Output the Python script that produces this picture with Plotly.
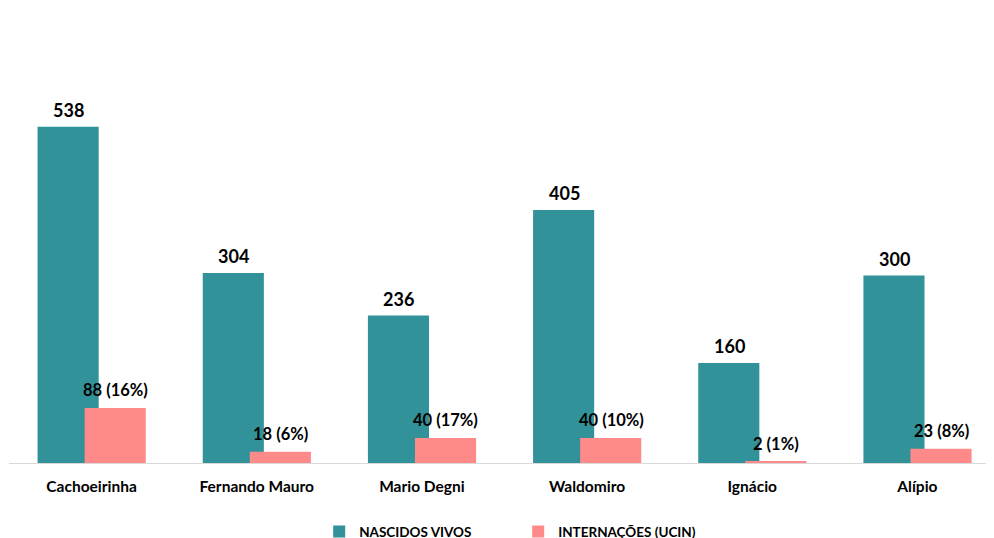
import plotly.graph_objects as go

categorias = ["Cachoeirinha", "Fernando Mauro", "Mario Degni", "Waldomiro", "Ignácio", "Alípio"]
nascidos_vivos = [538, 304, 236, 405, 160, 300]
internacoes = [88, 18, 40, 40, 2, 23]
percentuais = [16, 6, 17, 10, 1, 8]

TEAL = "#31929A"
PINK = "#FF8A8A"
FONT = "Lato"

rotulos_nv = [str(v) for v in nascidos_vivos]
rotulos_int = [f"{v} ({p}%)" for v, p in zip(internacoes, percentuais)]

fig = go.Figure()
fig.add_trace(go.Bar(
    x=categorias, y=nascidos_vivos, name="NASCIDOS VIVOS",
    marker=dict(color=TEAL, line=dict(width=0)),
    width=0.37, offset=-0.327,
))
fig.add_trace(go.Bar(
    x=categorias, y=internacoes, name="INTERNAÇÕES (UCIN)",
    marker=dict(color=PINK, line=dict(width=0)),
    width=0.37, offset=-0.042,
))

# rótulos de dados acima das barras
for cat, v, t in zip(categorias, nascidos_vivos, rotulos_nv):
    fig.add_annotation(x=cat, y=v, text=t, showarrow=False, xshift=-23, yshift=17,
                       yanchor="middle",
                       font=dict(family=FONT, size=18, color="#000000", weight="bold"))
for cat, v, t in zip(categorias, internacoes, rotulos_int):
    fig.add_annotation(x=cat, y=v, text=t, showarrow=False, xshift=24, yshift=18,
                       yanchor="middle",
                       font=dict(family=FONT, size=16.5, color="#000000", weight="bold"))

fig.update_layout(
    width=994, height=538,
    margin=dict(l=1, r=2, t=80, b=83, autoexpand=False),
    barmode="overlay",
    plot_bgcolor="white", paper_bgcolor="white",
    font=dict(family=FONT, color="#000000"),
    showlegend=True,
    legend=dict(
        orientation="h", x=0.313, xanchor="left", y=-0.142, yanchor="top",
        font=dict(family=FONT, size=13.5, color="#000000", weight="bold"),
        entrywidth=154, itemwidth=30,
    ),
    xaxis=dict(
        range=[-0.5, 5.5], showgrid=False, showline=True,
        linecolor="#D9D9D9", linewidth=1, ticks="", automargin=False,
        ticklabelstandoff=9,
        tickfont=dict(family=FONT, size=15.5, color="#000000", weight="bold"),
    ),
    yaxis=dict(range=[0, 600], visible=False, showgrid=False, automargin=False),
)

fig.write_html("out.html")
